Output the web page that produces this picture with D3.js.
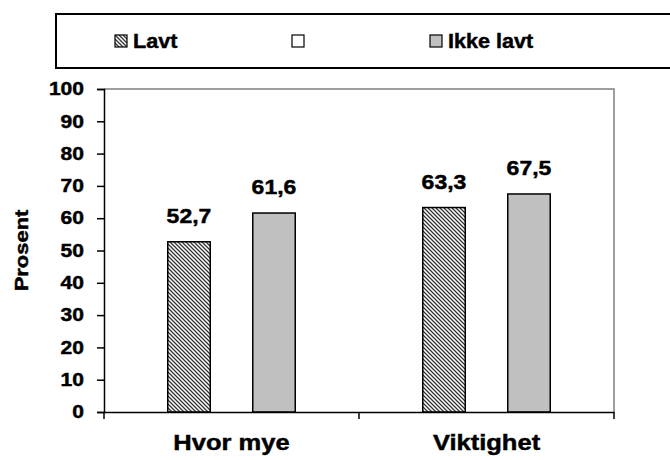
<!DOCTYPE html>
<html>
<head>
<meta charset="utf-8">
<script src="https://cdn.jsdelivr.net/npm/d3@7"></script>
<style>
  body { margin: 0; background: #fff; }
  text { font-family: Arial, "Liberation Sans", sans-serif; font-weight: bold; stroke: #000; stroke-width: 0.45px; }
</style>
</head>
<body>
<div id="container"></div>
<script>
const categories = ["Hvor mye", "Viktighet"];
const seriesNames = ["Lavt", "", "Ikke lavt"];
const lavt = [52.7, 63.3];
const blank = [null, null];
const ikkeLavt = [61.6, 67.5];
const yTicks = [0, 10, 20, 30, 40, 50, 60, 70, 80, 90, 100];

const seriesValues = [lavt, blank, ikkeLavt];
const seriesFill = ["url(#hatch)", "#fff", "#c0c0c0"];

const totalWidth = 670, totalHeight = 460;
const plot = { left: 104, right: 614, top: 89, bottom: 412 };

const svg = d3.select("#container").append("svg")
  .attr("width", totalWidth)
  .attr("height", totalHeight);

// hatch pattern
const defs = svg.append("defs");
const pat = defs.append("pattern")
  .attr("id", "hatch")
  .attr("patternUnits", "userSpaceOnUse")
  .attr("width", 4).attr("height", 4);
pat.append("rect").attr("width", 4).attr("height", 4).attr("fill", "#fff");
pat.append("path")
  .attr("d", "M-1,-1 L5,5 M-1,3 L1,5 M3,-1 L5,1")
  .attr("stroke", "#333").attr("stroke-width", 1.3);

const x0 = d3.scaleBand()
  .domain(categories)
  .range([plot.left, plot.right])
  .paddingInner(0.5)
  .paddingOuter(0.25);

const x1 = d3.scaleBand()
  .domain(d3.range(seriesNames.length))
  .range([0, x0.bandwidth()]);

const y = d3.scaleLinear().domain([0, 100]).range([plot.bottom, plot.top]);

// plot area border (top + right)
svg.append("path")
  .attr("d", `M${plot.left},${plot.top}H${plot.right}V${plot.bottom}`)
  .attr("fill", "none").attr("stroke", "#808080").attr("stroke-width", 1.5);

// bars
seriesValues.forEach((vals, si) => {
  const data = categories.map((c, i) => ({ c, v: vals[i] })).filter(d => d.v != null);
  svg.append("g").selectAll("rect")
    .data(data)
    .enter()
    .append("rect")
    .attr("x", d => x0(d.c) + x1(si))
    .attr("y", d => y(d.v))
    .attr("width", x1.bandwidth())
    .attr("height", d => y(0) - y(d.v))
    .attr("fill", seriesFill[si])
    .attr("stroke", "#000")
    .attr("stroke-width", 1.5);

  // value labels (stretched a little horizontally like the original)
  svg.append("g").selectAll("text")
    .data(data)
    .enter()
    .append("text")
    .attr("transform", d => `translate(${x0(d.c) + x1(si) + x1.bandwidth() / 2},${y(d.v) - 19}) scale(1.15,1)`)
    .attr("text-anchor", "middle")
    .attr("font-size", 20)
    .text(d => d.v.toFixed(1).replace(".", ","));
});

// Y axis
const yAxis = svg.append("g")
  .attr("transform", `translate(${plot.left},0)`)
  .call(d3.axisLeft(y).tickValues(yTicks).tickSize(7).tickPadding(11));
yAxis.select(".domain").attr("stroke-width", 1.5);
yAxis.selectAll(".tick line").attr("stroke-width", 1.5);
yAxis.selectAll("text")
  .attr("font-size", 18).attr("fill", "#000")
  .attr("x", -20 / 1.17)
  .attr("transform", "scale(1.17,1)")
  .style("font-family", "Arial, 'Liberation Sans', sans-serif").style("font-weight", "bold");

// X axis
const xAxis = svg.append("g")
  .attr("transform", `translate(0,${plot.bottom})`)
  .call(d3.axisBottom(x0).tickSize(0).tickPadding(22).tickSizeOuter(0));
xAxis.select(".domain").attr("stroke-width", 1.5);
xAxis.selectAll("text")
  .attr("font-size", 22).attr("fill", "#000")
  .attr("transform", "scale(1.16,1)")
  .style("font-family", "Arial, 'Liberation Sans', sans-serif").style("font-weight", "bold");

// category boundary ticks
const bounds = [plot.left, (plot.left + plot.right) / 2, plot.right];
xAxis.selectAll(".bound")
  .data(bounds)
  .enter()
  .append("line")
  .attr("x1", d => d).attr("x2", d => d)
  .attr("y1", 0).attr("y2", 7)
  .attr("stroke", "#000").attr("stroke-width", 1.5);

// Y label
svg.append("text")
  .attr("transform", `translate(28,${(plot.top + plot.bottom) / 2}) rotate(-90) scale(1.22,1)`)
  .attr("text-anchor", "middle")
  .attr("font-size", 18)
  .text("Prosent");

// Legend
const legend = svg.append("g");
legend.append("rect")
  .attr("x", 56).attr("y", 14)
  .attr("width", 640).attr("height", 54)
  .attr("fill", "#fff").attr("stroke", "#000").attr("stroke-width", 2);

const legendX = [115, 292, 430];
seriesNames.forEach((name, i) => {
  legend.append("rect")
    .attr("x", legendX[i]).attr("y", 35)
    .attr("width", 12).attr("height", 12)
    .attr("fill", seriesFill[i])
    .attr("stroke", "#000").attr("stroke-width", 1.2);
  legend.append("text")
    .attr("transform", `translate(${legendX[i] + 18},48) scale(1.08,1)`)
    .attr("font-size", 20)
    .text(name);
});
</script>
</body>
</html>
